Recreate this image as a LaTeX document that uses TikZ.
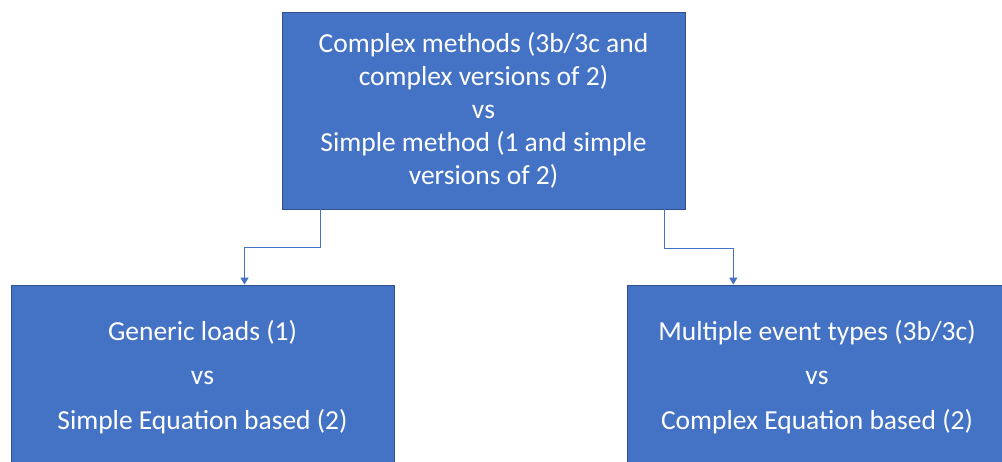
\documentclass[tikz,border=0pt]{standalone}
\usepackage{fontspec}
\setmainfont{Carlito}
\usetikzlibrary{arrows.meta}
\definecolor{boxblue}{HTML}{4472C4}
\definecolor{boxedge}{HTML}{2F528F}
\tikzset{
  block/.style={draw=boxedge,fill=boxblue,line width=0.8pt,text=white,align=center,inner sep=0},
  conn/.style={draw=boxblue,line width=1pt,-{Triangle[width=8pt,length=7pt]}}
}
\begin{document}
\begin{tikzpicture}[x=1pt,y=-1pt]
	\useasboundingbox (0,0) rectangle (1002,462);
	\clip (0,0) rectangle (1002,462);
	% top box
	\node[block,minimum width=403pt,minimum height=197pt,
	      font=\fontsize{27.5}{33}\selectfont] (top) at (483.5,110.5)
	      {Complex methods (3b/3c and\\complex versions of 2)\\vs\\Simple method (1 and simple\\versions of 2)};
	% bottom boxes
	\node[block,minimum width=383pt,minimum height=184pt,
	      font=\fontsize{27.5}{44.5}\selectfont] (left) at (202.5,377)
	      {Generic loads (1)\\vs\\Simple Equation based (2)};
	\node[block,minimum width=380pt,minimum height=184pt,
	      font=\fontsize{27.5}{44.5}\selectfont] (right) at (817,377)
	      {Multiple event types (3b/3c)\\vs\\Complex Equation based (2)};
	% connectors
	\draw[conn] ([xshift=38.7pt]top.south west) -- ++(0,38.5) -| ([xshift=42pt]left.north);
	\draw[conn] ([xshift=-20.7pt]top.south east) -- ++(0,39.5) -| ([xshift=-83.7pt]right.north);
\end{tikzpicture}
\end{document}
